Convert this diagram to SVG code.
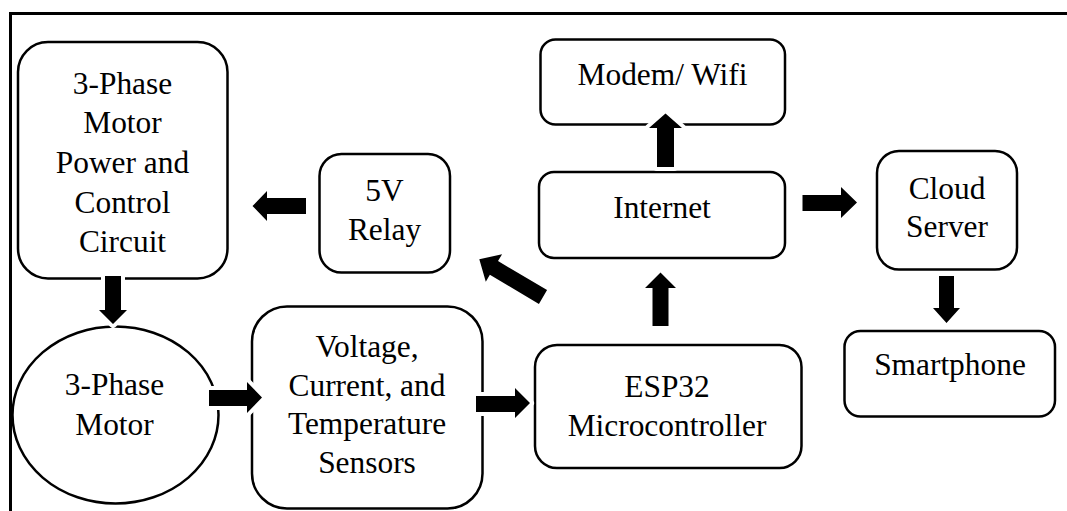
<svg xmlns="http://www.w3.org/2000/svg" width="1067" height="511" viewBox="0 0 1067 511">
<style>
.box{fill:#fff;stroke:#000;stroke-width:2.5}
.t{font-family:'Liberation Serif','Times New Roman',serif;font-size:31.4px;fill:#000;text-anchor:middle}
.arr{fill:#000;stroke:#fff;stroke-width:8;stroke-linejoin:round;paint-order:stroke}
.frame{fill:none;stroke:#000;stroke-width:3}
</style>
<rect width="1067" height="511" fill="#fff"/>
<path class="frame" d="M10.5,511 V13.5 H1067"/>
<g id="power-control">
<rect class="box" x="18" y="42" width="209.5" height="236.5" rx="30"/>
<text class="t" x="122.5" y="93.5">3-Phase</text>
<text class="t" x="122.5" y="133">Motor</text>
<text class="t" x="122.5" y="173">Power and</text>
<text class="t" x="122.5" y="213">Control</text>
<text class="t" x="122.5" y="252">Circuit</text>
</g>
<g id="relay">
<rect class="box" x="319.5" y="154" width="130.5" height="118.5" rx="22"/>
<text class="t" x="384.5" y="201">5V</text>
<text class="t" x="384.5" y="240">Relay</text>
</g>
<g id="modem">
<rect class="box" x="540.5" y="39.5" width="244.5" height="85" rx="15"/>
<text class="t" x="662.5" y="84.5">Modem/ Wifi</text>
</g>
<g id="internet">
<rect class="box" x="539" y="172" width="246" height="86" rx="15"/>
<text class="t" x="662" y="217.5">Internet</text>
</g>
<g id="cloud">
<rect class="box" x="877" y="151" width="140" height="118.5" rx="22"/>
<text class="t" x="947" y="198.5">Cloud</text>
<text class="t" x="947" y="237">Server</text>
</g>
<g id="smartphone">
<rect class="box" x="844.5" y="331" width="210.5" height="85.5" rx="16"/>
<text class="t" x="950" y="375">Smartphone</text>
</g>
<g id="esp32">
<rect class="box" x="535" y="345" width="266.5" height="123" rx="22"/>
<text class="t" x="667" y="396.5">ESP32</text>
<text class="t" x="667" y="436">Microcontroller</text>
</g>
<g id="sensors">
<rect class="box" x="252" y="306.5" width="230.5" height="202" rx="35"/>
<text class="t" x="367" y="357">Voltage,</text>
<text class="t" x="367" y="396">Current, and</text>
<text class="t" x="367" y="434">Temperature</text>
<text class="t" x="367" y="472.5">Sensors</text>
</g>
<g id="motor">
<ellipse class="box" cx="115.5" cy="415" rx="103" ry="88.5"/>
<text class="t" x="114.5" y="395">3-Phase</text>
<text class="t" x="114.5" y="435">Motor</text>
</g>
<g id="connectors">
<polygon class="arr" points="252.5,206 267,191 267,198 306,198 306,214 267,214 267,221"/>
<polygon class="arr" points="105,276 121,276 121,310 127,310 113,324 99,310 105,310"/>
<polygon class="arr" points="209,390 247,390 247,382 262,397.5 247,413 247,406 209,406"/>
<polygon class="arr" points="476,396 515,396 515,388 530,403 515,418 515,412 476,412"/>
<polygon class="arr" points="652.5,326 652.5,288 645,288 660.5,272.5 676,288 668.5,288 668.5,326"/>
<polygon class="arr" points="657,167 657,128 649,128 665.5,113.5 682,128 674,128 674,167"/>
<polygon class="arr" points="802.5,195 841,195 841,187 857,202.5 841,218 841,211 802.5,211"/>
<polygon class="arr" points="939,276 954,276 954,308 960,308 946.5,323 933,308 939,308"/>
<polygon class="arr" transform="translate(543,297) rotate(210.6)" points="0,-8 57,-8 57,-16 74,0 57,16 57,8 0,8"/>
</g>
</svg>
